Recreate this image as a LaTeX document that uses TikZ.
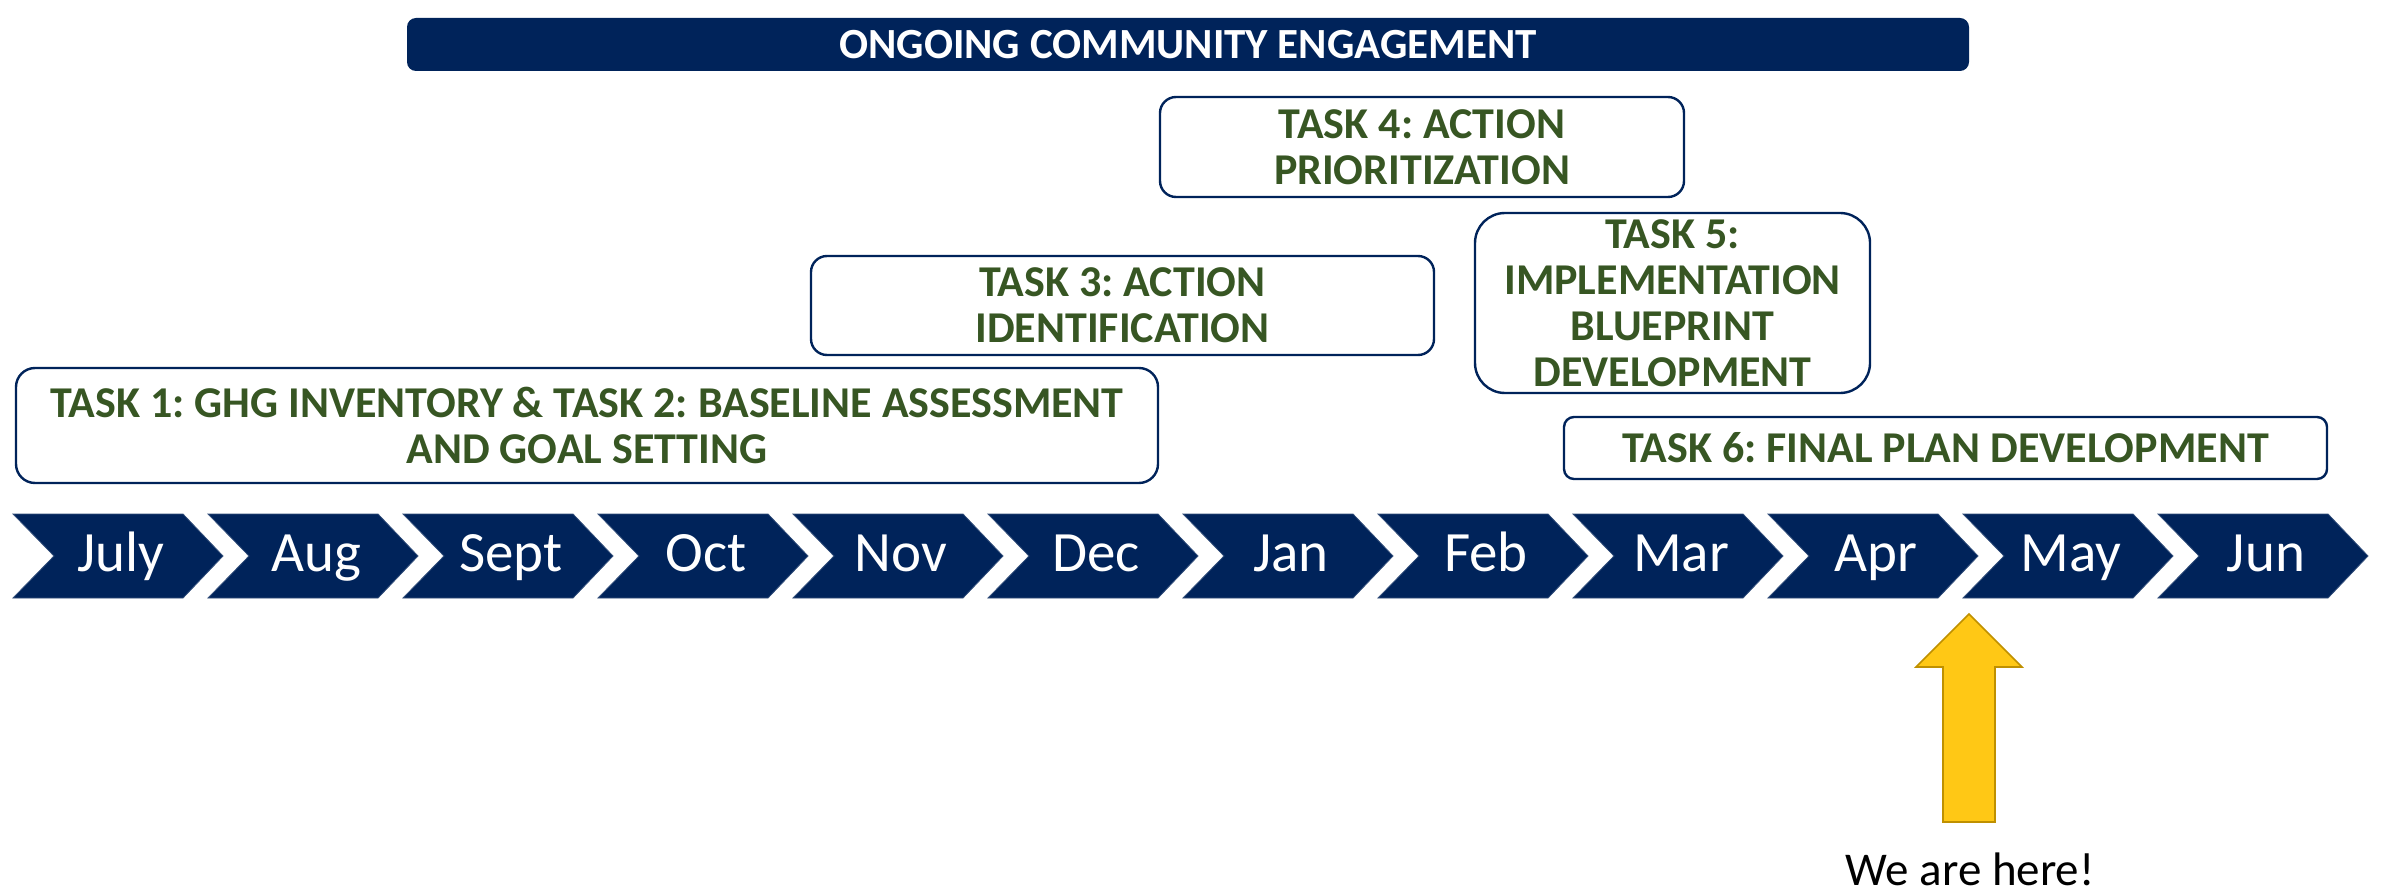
\documentclass[tikz,border=0pt]{standalone}
\usepackage{fontspec}
\setmainfont{Carlito}
\frenchspacing
\definecolor{navy}{RGB}{0,35,90}
\definecolor{tgreen}{RGB}{55,86,35}
\definecolor{ayellow}{RGB}{255,200,21}
\definecolor{aydark}{RGB}{191,144,0}
\tikzset{
  taskbox/.style={draw=navy, line width=1.2pt, fill=white, align=center, text=tgreen,
    font=\bfseries\fontsize{22}{23}\selectfont\frenchspacing, inner sep=0pt},
  banner/.style={fill=navy, text=white, align=center, inner sep=0pt,
    font=\bfseries\fontsize{21.5}{23}\selectfont},
  monthtxt/.style={text=white, anchor=base, inner sep=0pt, font=\fontsize{28.5}{30}\selectfont},
  chev/.style={fill=navy, draw=navy!80!white, line width=0.4pt},
  herearrow/.style={fill=ayellow, draw=aydark, line width=0.8pt, line join=miter}
}
\begin{document}
\begin{tikzpicture}[x=0.5pt,y=-0.5pt]
\useasboundingbox (0,0) rectangle (2381,893);
% banner
\node[banner, rounded corners=4.5pt, minimum width=781pt, minimum height=26.5pt] (eng) at (1188,44.5) {ONGOING COMMUNITY ENGAGEMENT};
% task boxes
\node[taskbox, rounded corners=8pt, minimum width=262pt, minimum height=50pt] (t4) at (1422,147) {TASK 4: ACTION\\PRIORITIZATION};
\node[taskbox, rounded corners=8pt, minimum width=311.5pt, minimum height=49.5pt] (t3) at (1122.5,305.5) {TASK 3: ACTION\\IDENTIFICATION};
\node[taskbox, rounded corners=15pt, minimum width=197.5pt, minimum height=90pt] (t5) at (1672.5,303) {TASK 5:\\IMPLEMENTATION\\BLUEPRINT\\DEVELOPMENT};
\node[taskbox, rounded corners=9.5pt, minimum width=571pt, minimum height=57.5pt] (t1) at (587,425.5) {TASK 1: GHG INVENTORY \& TASK 2: BASELINE ASSESSMENT\\AND GOAL SETTING};
\node[taskbox, rounded corners=5pt, minimum width=381.5pt, minimum height=31pt] (t6) at (1945.5,448) {TASK 6: FINAL PLAN DEVELOPMENT};
% chevrons
\foreach \m [count=\i from 0] in {July,Aug,Sept,Oct,Nov,Dec,Jan,Feb,Mar,Apr,May,Jun}{
  \pgfmathsetmacro{\L}{13+195*\i}
  \fill[chev] (\L,514) -- ++(170,0) -- ++(40,42) -- ++(-40,42) -- ++(-170,0) -- ++(41,-42) -- cycle;
  \node[monthtxt] (m\i) at (\L+108,571) {\m};
}
% arrow
\draw[herearrow] (1969,614) -- (2022,667) -- (1995,667) -- (1995,822) -- (1943,822) -- (1943,667) -- (1916,667) -- cycle;
\node[anchor=base, inner sep=0pt, font=\fontsize{23.5}{26}\selectfont] (here) at (1970,885) {We are here!};
\end{tikzpicture}
\end{document}
